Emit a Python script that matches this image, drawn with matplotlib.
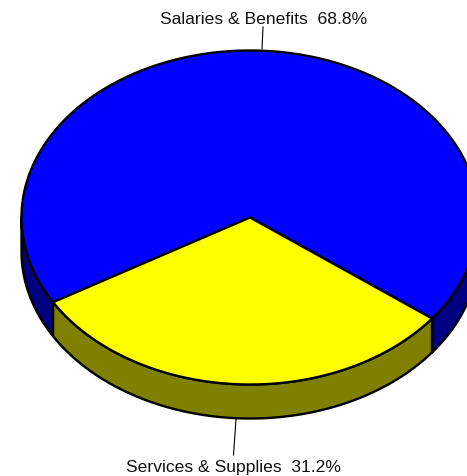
from matplotlib import pyplot as plt
import numpy as np

labels = ["Salaries & Benefits", "Services & Supplies"]
shares = [68.8, 31.2]
top_colors = ["#0000ff", "#ffff00"]
side_colors = ["#000080", "#808000"]

W, H = 467, 477
CX, CY = 250, 218.5
RX, RY = 228.5, 167
DEPTH = 34
START = 322.8  # where the first slice starts, degrees counter clockwise
LW = 1.7


def rim(a0, a1, drop=0):
    t = np.radians(np.linspace(a0, a1, 200))
    return CX + RX * np.cos(t), CY - RY * np.sin(t) + drop


def drawSide(ax, a0, a1, color):
    # only the front half of the rim (180..360 deg) can be seen
    a0, a1 = max(a0, 180), min(a1, 360)
    if a0 >= a1:
        return
    x, y = rim(a0, a1)
    xs, ys = rim(a0, a1, DEPTH)
    ax.fill(np.r_[x, xs[::-1]], np.r_[y, ys[::-1]], fc=color, ec="black", lw=LW, joinstyle="round")


fig = plt.figure(figsize=(W / 100, H / 100), dpi=100)
ax = fig.add_axes([0, 0, 1, 1])
ax.set_xlim(0, W)
ax.set_ylim(H, 0)
ax.axis("off")

angles = np.array(shares) / sum(shares) * 360
a0 = START
for share, ang, top, side in zip(shares, angles, top_colors, side_colors):
    a1 = a0 + ang
    # side wall, checked again one turn lower because the slice can wrap past 0
    drawSide(ax, a0, a1, side)
    drawSide(ax, a0 - 360, a1 - 360, side)
    x, y = rim(a0, a1)
    ax.fill(np.r_[CX, x], np.r_[CY, y], fc=top, ec="black", lw=LW, joinstyle="round", zorder=3)
    a0 = a1

# labels and their leader lines
font = dict(family=["Liberation Sans", "DejaVu Sans"], fontsize=12.6, color="#111111", ha="center", va="center")
ax.plot([263, 262], [28, 50], color="black", lw=0.8, zorder=2)
ax.text(263.5, 19, "{}  {}%".format(labels[0], shares[0]), **font)
ax.plot([236, 233.5], [420, 456], color="black", lw=0.8, zorder=2)
ax.text(233.5, 468, "{}  {}%".format(labels[1], shares[1]), **font)

fig.savefig("out.png", dpi=100)
